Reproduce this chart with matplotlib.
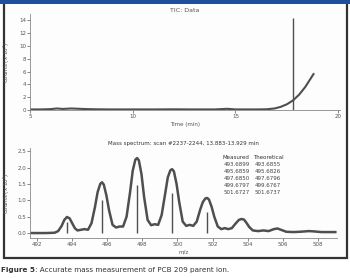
import matplotlib
matplotlib.use("Agg")
import matplotlib.pyplot as plt
from matplotlib.patches import Rectangle
from matplotlib.text import Annotation

# --- TIC data (time in min, counts x 10^7) ---
tic_time = [5.0, 5.5, 6.0, 6.3, 6.6, 7.0, 7.4, 7.8, 8.3, 9.0, 10.0, 11.0, 12.0,
            13.0, 14.0, 14.6, 15.0, 15.5, 16.0, 16.5, 16.9, 17.2, 17.5, 17.8,
            18.1, 18.4, 18.6, 18.8]
tic_counts = [0.1, 0.1, 0.15, 0.25, 0.18, 0.25, 0.2, 0.15, 0.12, 0.1, 0.1, 0.1, 0.12,
              0.1, 0.1, 0.2, 0.1, 0.1, 0.1, 0.12, 0.25, 0.5, 0.9, 1.5,
              2.4, 3.6, 4.6, 5.6]
spike_time = 17.8
spike_height = 14.3

# --- Mass spectrum profile (m/z, counts x 10^6) ---
ms_mz = [491.6, 492.5, 493.0, 493.2, 493.4, 493.55, 493.7, 493.85, 494.0, 494.15, 494.3,
         494.5, 494.7, 494.9, 495.1, 495.3, 495.45, 495.6, 495.7, 495.8, 495.95, 496.1, 496.3,
         496.5, 496.7, 496.9, 497.1, 497.3, 497.45, 497.6, 497.7, 497.8, 497.95, 498.1, 498.3,
         498.5, 498.7, 498.9, 499.1, 499.3, 499.45, 499.6, 499.7, 499.8, 499.95, 500.1, 500.3,
         500.5, 500.7, 500.9, 501.1, 501.3, 501.45, 501.6, 501.7, 501.8, 501.95, 502.1, 502.3,
         502.5, 502.7, 502.9, 503.1, 503.3, 503.5, 503.65, 503.8, 503.95, 504.1, 504.3,
         504.6, 504.9, 505.2, 505.5, 505.7, 505.9, 506.2, 506.6, 507.0, 507.5,
         507.8, 508.2, 509.0]
ms_counts = [0.0, 0.0, 0.01, 0.06, 0.22, 0.4, 0.49, 0.45, 0.3, 0.15, 0.08,
             0.1, 0.12, 0.1, 0.3, 0.8, 1.25, 1.5, 1.55, 1.48, 1.15, 0.7, 0.25,
             0.17, 0.2, 0.2, 0.5, 1.25, 1.9, 2.24, 2.29, 2.22, 1.8, 1.1, 0.4,
             0.24, 0.27, 0.25, 0.55, 1.2, 1.7, 1.92, 1.95, 1.88, 1.5, 0.95, 0.35,
             0.22, 0.25, 0.22, 0.35, 0.72, 0.95, 1.06, 1.07, 1.02, 0.8, 0.5, 0.2,
             0.12, 0.15, 0.12, 0.15, 0.28, 0.4, 0.43, 0.41, 0.3, 0.18, 0.08,
             0.06, 0.08, 0.06, 0.12, 0.14, 0.1, 0.04, 0.03, 0.04, 0.06,
             0.05, 0.03, 0.03]

# centroid sticks
stick_mz = [493.69, 495.69, 497.68, 499.68, 501.67]
stick_counts = [0.33, 1.0, 1.46, 1.22, 0.64]

measured = ["493.6899", "495.6859", "497.6850", "499.6797", "501.6727"]
theoretical = ["493.6855", "495.6826", "497.6796", "499.6767", "501.6737"]

tic_xticks = [5, 10, 15, 20]
tic_yticks = [0, 2, 4, 6, 8, 10, 12, 14]
ms_xticks = [492, 494, 496, 498, 500, 502, 504, 506, 508]
ms_yticks = [0.0, 0.5, 1.0, 1.5, 2.0, 2.5]

line_col = "#4f4f4f"
text_col = "#555555"
fs = 4

fig = plt.figure(figsize=(3.5, 2.78), dpi=100)
fig.patch.set_facecolor("white")

# frame and blue band (behind the axes)
fig.patches.append(Rectangle((0.012, 0.072), 0.98, 0.92, transform=fig.transFigure,
                             facecolor="#fdfdfd", edgecolor="#333333", lw=1.6, zorder=-5))
fig.patches.append(Rectangle((0, 0.986), 1, 0.014, transform=fig.transFigure,
                             facecolor="#1f4e9a", edgecolor="none", zorder=-4))


def style(ax):
    for s in ["top", "right"]:
        ax.spines[s].set_visible(False)
    for s in ["left", "bottom"]:
        ax.spines[s].set_color("#888888")
        ax.spines[s].set_linewidth(0.6)
    ax.tick_params(labelsize=fs, colors=text_col, length=2, width=0.5, pad=1)
    ax.set_facecolor("none")
    ax.set_zorder(2)


# --- top: TIC ---
ax1 = fig.add_axes([0.086, 0.604, 0.886, 0.347])
ax1.plot(tic_time, tic_counts, color=line_col, lw=1.5)
ax1.vlines(spike_time, 0, spike_height, color=line_col, lw=1.0)
ax1.set_xlim(5, 20.1)
ax1.set_ylim(0, 15)
ax1.set_xticks(tic_xticks)
ax1.set_yticks(tic_yticks)
ax1.set_xlabel("Time (min)", fontsize=fs, color=text_col, labelpad=2)
ax1.set_ylabel(r"Counts (x 10$^7$)", fontsize=fs, color=text_col, labelpad=5)
ax1.set_title("TIC: Data", fontsize=fs + 0.5, color=text_col, pad=1)
style(ax1)

# --- bottom: mass spectrum ---
ax2 = fig.add_axes([0.086, 0.144, 0.877, 0.324])
ax2.plot(ms_mz, ms_counts, color=line_col, lw=1.8, solid_joinstyle="round")
ax2.vlines(stick_mz, 0, stick_counts, color=line_col, lw=1.0)
ax2.set_xlim(491.6, 509.1)
ax2.set_ylim(-0.15, 2.6)
ax2.set_xticks(ms_xticks)
ax2.set_yticks(ms_yticks)
ax2.set_yticklabels([f"{v:.1f}" for v in ms_yticks])
ax2.set_xlabel("m/z", fontsize=fs, color=text_col, labelpad=2)
ax2.set_ylabel(r"Counts (x 10$^6$)", fontsize=fs, color=text_col, labelpad=4)
ax2.set_title("Mass spectrum: scan #2237-2244, 13.883-13.929 min",
              fontsize=fs, color="#333333", pad=2)
style(ax2)

# measured vs theoretical table
ax2.text(0.672, 0.875, "Measured", transform=ax2.transAxes, fontsize=fs,
         color="#333333", ha="center")
ax2.text(0.775, 0.875, "Theoretical", transform=ax2.transAxes, fontsize=fs,
         color="#333333", ha="center")
for i in range(len(measured)):
    yy = 0.8 - i * 0.077
    ax2.text(0.672, yy, measured[i], transform=ax2.transAxes, fontsize=fs,
             color="#444444", ha="center")
    ax2.text(0.775, yy, theoretical[i], transform=ax2.transAxes, fontsize=fs,
             color="#444444", ha="center")

# caption
cap1 = fig.text(0.003, 0.022, "Figure 5", fontsize=5.2, fontweight="bold", color="#333333")
fig.add_artist(Annotation(": Accurate mass measurement of PCB 209 parent ion.",
                          xy=(1, 0), xycoords=cap1, va="bottom", ha="left",
                          fontsize=5.2, color="#333333"))

fig.savefig("out.png", dpi=100)
